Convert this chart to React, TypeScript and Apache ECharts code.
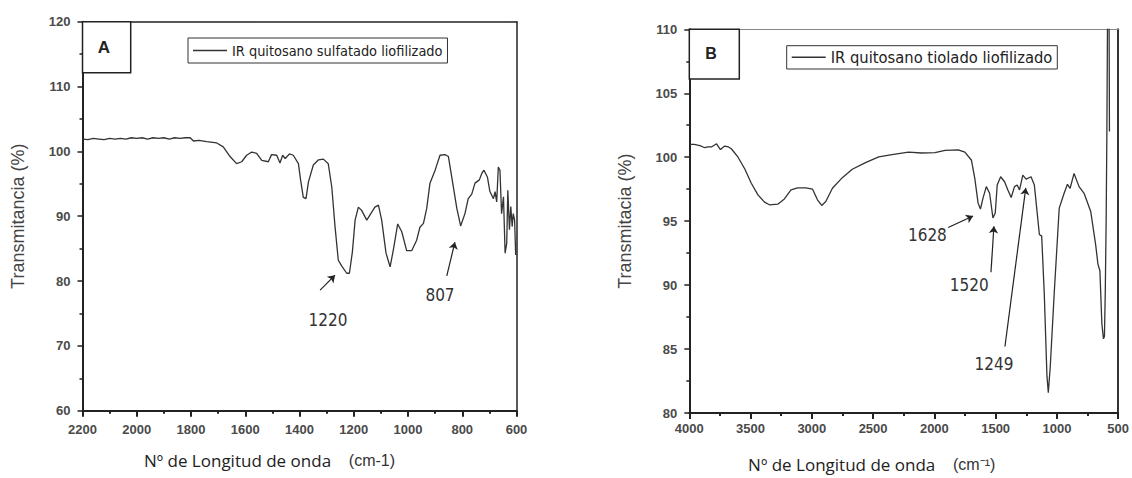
import React, { useEffect, useRef } from "react";
import * as echarts from "echarts";

// ---------- Panel A: IR quitosano sulfatado liofilizado ----------
const wavenumberA = [
  2200, 2180, 2160, 2140, 2120, 2100, 2080, 2060, 2040, 2020, 2000, 1980, 1960, 1940, 1920, 1900, 1880, 1860,
  1840, 1820, 1803, 1791, 1770, 1742, 1720, 1705, 1681, 1656, 1632, 1613, 1595, 1576, 1558, 1539, 1515, 1503,
  1484, 1472, 1462, 1453, 1437, 1423, 1404, 1396, 1386, 1376, 1367, 1349, 1330, 1312, 1294, 1281, 1269, 1257,
  1244, 1226, 1216, 1205, 1195, 1183, 1171, 1152, 1140, 1122, 1109, 1097, 1081, 1066, 1054, 1038, 1023, 1005,
  986, 968, 956, 943, 931, 919, 900, 882, 864, 851, 839, 820, 806, 790, 778, 765, 753, 737, 728, 720, 707, 698,
  685, 679, 673, 667, 661, 655, 648, 642, 636, 632, 626, 621, 616, 612, 607, 603,
];
const transmittanceA = [
  101.9, 101.8, 102.0, 101.9, 101.8, 102.0, 101.9, 102.0, 101.9, 102.1, 102.0, 102.1, 101.9, 102.1, 102.0, 102.1,
  101.9, 102.1, 102.0, 102.1, 102.1, 101.6, 101.7, 101.5, 101.4, 101.3, 100.7, 99.2, 98.1, 98.4, 99.4, 99.9, 99.7,
  98.6, 98.4, 99.5, 99.4, 98.2, 99.4, 98.9, 99.6, 99.4, 98.1, 95.6, 92.9, 92.7, 95.3, 97.9, 98.7, 98.8, 98.1,
  94.5, 88.4, 83.2, 82.3, 81.2, 81.2, 84.5, 89.4, 91.4, 90.9, 89.4, 90.2, 91.4, 91.7, 89.4, 84.3, 82.2, 84.8,
  88.8, 87.6, 84.7, 84.7, 86.3, 88.3, 88.9, 91.2, 95.1, 97.1, 99.4, 99.5, 99.2, 96.1, 91.2, 88.5, 90.4, 92.7,
  93.4, 95.1, 95.6, 96.6, 97.1, 96.0, 93.8, 92.7, 93.8, 92.2, 97.6, 97.1, 90.4, 93.0, 84.3, 85.8, 94.0, 87.9,
  91.5, 88.4, 90.4, 89.4, 84.0,
];

// ---------- Panel B: IR quitosano tiolado liofilizado ----------
const wavenumberB = [
  4000, 3960, 3913, 3873, 3850, 3819, 3778, 3746, 3711, 3680, 3657, 3602, 3548, 3494, 3440, 3386, 3346, 3278,
  3224, 3170, 3116, 3049, 2994, 2954, 2919, 2886, 2832, 2751, 2670, 2562, 2454, 2346, 2211, 2103, 1995, 1913,
  1805, 1751, 1697, 1670, 1643, 1624, 1603, 1576, 1549, 1522, 1503, 1487, 1459, 1427, 1400, 1373, 1346, 1324,
  1305, 1278, 1251, 1211, 1184, 1162, 1143, 1124, 1103, 1081, 1070, 1054, 1022, 981, 941, 914, 892, 860, 819,
  778, 724, 684, 665, 649, 633, 620, 612, 605, 598, 592, 587, 580, 574, 571,
];
const transmittanceB = [
  101.0, 101.0, 100.9, 100.74, 100.8, 100.8, 101.05, 100.6, 100.87, 100.8, 100.66, 100.0, 99.1, 97.96, 97.05,
  96.49, 96.28, 96.33, 96.74, 97.44, 97.6, 97.6, 97.5, 96.67, 96.23, 96.54, 97.57, 98.4, 99.06, 99.58, 100.02,
  100.2, 100.4, 100.33, 100.35, 100.53, 100.58, 100.4, 99.76, 98.34, 96.41, 95.95, 96.8, 97.7, 97.18, 95.25,
  95.64, 97.83, 98.47, 98.08, 97.44, 96.85, 97.7, 97.83, 97.44, 98.6, 98.29, 98.47, 97.83, 95.76, 93.96, 93.83,
  89.32, 82.88, 81.59, 83.65, 89.32, 96.02, 97.18, 97.88, 97.57, 98.73, 97.7, 97.18, 95.76, 93.19, 91.64, 91.12,
  87.0, 85.8, 86.0, 89.5, 95.0, 102.0, 110.5, 113.0, 110.5, 102.0,
];

// Peak annotations (data coordinates): label, label position, arrow start, arrow end
const peakLabelsA = ["1220", "807"];
const peakTextA = [[1295, 74.0], [882, 77.8]];
const peakArrowFromA = [[1324, 78.6], [857, 80.8]];
const peakArrowToA = [[1269, 80.9], [827, 86.0]];

const peakLabelsB = ["1628", "1520", "1249"];
const peakTextB = [[2057, 93.9], [1716, 90.0], [1514, 83.8]];
const peakArrowFromB = [[1887, 94.5], [1538, 91.0], [1424, 85.2]];
const peakArrowToB = [[1684, 95.4], [1514, 94.6], [1254, 97.6]];

const seriesNameA = "IR quitosano sulfatado liofilizado";
const seriesNameB = "IR quitosano tiolado liofilizado";

const zip = (xs: number[], ys: number[]) => xs.map((x, i) => [x, ys[i]]);

const NARROW = "'Liberation Sans Narrow', 'DejaVu Sans Condensed', 'Liberation Sans', sans-serif";
const TICK_FONT = { fontFamily: "'Liberation Sans', Arial, sans-serif", fontWeight: "bold" as const, fontSize: 13, color: "#4a4a4a" };

function buildMarks(labels: string[], text: number[][], from: number[][], to: number[][]) {
  return {
    markLine: {
      silent: true,
      symbol: ["none", "arrow"],
      symbolSize: 7,
      label: { show: false },
      lineStyle: { color: "#222", width: 1.2, type: "solid" },
      data: from.map((f, i) => [{ coord: f }, { coord: to[i] }]),
    },
    markPoint: {
      silent: true,
      symbol: "circle",
      symbolSize: 1,
      itemStyle: { color: "rgba(0,0,0,0)" },
      label: {
        show: true,
        position: "inside",
        formatter: "{b}",
        color: "#333",
        fontSize: 17,
        fontFamily: NARROW,
      },
      data: labels.map((l, i) => ({ name: l, coord: text[i] })),
    },
  };
}

export default function App() {
  const ref = useRef<HTMLDivElement>(null);
  useEffect(() => {
    if (!ref.current) return;
    const chart = echarts.init(ref.current, undefined, { renderer: "svg" });
    const xAxisBase = (grid: number, min: number, max: number, interval: number, gap: number, shift: number, label: string) => ({
      type: "value",
      gridIndex: grid,
      min,
      max,
      interval,
      inverse: true,
      position: "bottom",
      axisLine: { show: true, onZero: false, lineStyle: { color: "#222", width: 2 } },
      axisTick: { show: true, inside: false, length: 6, lineStyle: { color: "#222", width: 2 } },
      minorTick: { show: true, splitNumber: 2, length: 3, lineStyle: { color: "#222", width: 2 } },
      splitLine: { show: false },
      axisLabel: { ...TICK_FONT, margin: grid === 0 ? 12 : 9, formatter: (v: number) => String(v) },
      name: label,
      nameLocation: "middle",
      nameGap: gap,
      nameTextStyle: {
        padding: [0, shift, 0, 0],
        rich: {
          a: { fontFamily: "'Open Sans', sans-serif", fontSize: 17, color: "#222" },
          b: { fontFamily: "'Liberation Sans', sans-serif", fontSize: 16, color: "#333" },
        },
      },
    });
    const yAxisBase = (grid: number, min: number, max: number, interval: number, gap: number, label: string) => ({
      type: "value",
      gridIndex: grid,
      min,
      max,
      interval,
      position: "left",
      axisLine: { show: true, onZero: false, lineStyle: { color: "#222", width: 2 } },
      axisTick: { show: true, inside: false, length: 5, lineStyle: { color: "#222", width: 1.5 } },
      minorTick: { show: true, splitNumber: 2, length: 3, lineStyle: { color: "#222", width: 1.5 } },
      splitLine: { show: false },
      axisLabel: { ...TICK_FONT, margin: 12, formatter: (v: number) => String(v) },
      name: label,
      nameLocation: "middle",
      nameGap: gap,
      nameTextStyle: { fontFamily: "'Liberation Sans', Arial, sans-serif", fontSize: 18, color: "#444" },
    });
    const frameX = (grid: number, color: string, width: number) => ({
      type: "value", gridIndex: grid, position: "top", min: 0, max: 1,
      axisLine: { show: true, onZero: false, lineStyle: { color, width } },
      axisTick: { show: false }, axisLabel: { show: false }, splitLine: { show: false },
    });
    const frameY = (grid: number, color: string, width: number) => ({
      type: "value", gridIndex: grid, position: "right", min: 0, max: 1,
      axisLine: { show: true, onZero: false, lineStyle: { color, width } },
      axisTick: { show: false }, axisLabel: { show: false }, splitLine: { show: false },
    });

    const legendBase = (name: string, left: number, top: number, fontSize: number, lineHeight: number) => ({
      data: [{ name, icon: "rect" }],
      left,
      top,
      orient: "horizontal",
      selectedMode: false,
      itemWidth: 34,
      itemHeight: 1.5,
      itemStyle: { color: "#333" },
      padding: [2, 5, 2, 5],
      borderColor: "#333",
      borderWidth: 1,
      backgroundColor: "#fff",
      textStyle: { fontFamily: NARROW, fontSize, color: "#222", lineHeight },
    });

    chart.setOption({
      animation: false,
      backgroundColor: "#fff",
      grid: [
        { left: 82.5, top: 21.7, width: 434, height: 389, containLabel: false },
        { left: 689.3, top: 29.3, width: 431.7, height: 388, containLabel: false },
      ],
      xAxis: [
        xAxisBase(0, 600, 2200, 200, 41, 60, "{a|Nº de Longitud de onda}{b|    (cm-1)}"),
        xAxisBase(1, 500, 4000, 500, 43, 64, "{a|Nº de Longitud de onda}{b|    (cm⁻¹)}"),
        frameX(0, "#222", 1.5),
        frameX(1, "#888", 1),
      ],
      yAxis: [
        yAxisBase(0, 60, 120, 10, 56, "Transmitancia (%)"),
        yAxisBase(1, 80, 110, 5, 55, "Transmitacia (%)"),
        frameY(0, "#222", 1.5),
        frameY(1, "#333", 2),
      ],
      legend: [
        legendBase(seriesNameA, 188, 38, 14.4, 21),
        legendBase(seriesNameB, 786.7, 45.7, 16.4, 19.3),
      ],
      series: [
        {
          name: seriesNameA,
          type: "line",
          xAxisIndex: 0,
          yAxisIndex: 0,
          data: zip(wavenumberA, transmittanceA),
          symbol: "none",
          clip: true,
          lineStyle: { color: "#333", width: 1.3 },
          itemStyle: { color: "#333" },
          ...buildMarks(peakLabelsA, peakTextA, peakArrowFromA, peakArrowToA),
        },
        {
          name: seriesNameB,
          type: "line",
          xAxisIndex: 1,
          yAxisIndex: 1,
          data: zip(wavenumberB, transmittanceB),
          symbol: "none",
          clip: true,
          lineStyle: { color: "#333", width: 1.3 },
          itemStyle: { color: "#333" },
          ...buildMarks(peakLabelsB, peakTextB, peakArrowFromB, peakArrowToB),
        },
      ],
      graphic: [
        {
          type: "rect", z: 100,
          shape: { x: 82.5, y: 21.7, width: 48.2, height: 51 },
          style: { fill: "#fff", stroke: "#222", lineWidth: 1.5 },
        },
        {
          type: "text", z: 101, x: 104, y: 47,
          style: { text: "A", fill: "#222", font: "bold 17px 'Liberation Sans', Arial, sans-serif", textAlign: "center", textVerticalAlign: "middle" },
        },
        {
          type: "rect", z: 100,
          shape: { x: 689.3, y: 29.3, width: 50, height: 49.7 },
          style: { fill: "#fff", stroke: "#222", lineWidth: 1.5 },
        },
        {
          type: "text", z: 101, x: 711, y: 53,
          style: { text: "B", fill: "#222", font: "bold 16px 'Liberation Sans', Arial, sans-serif", textAlign: "center", textVerticalAlign: "middle" },
        },
      ],
    });
    return () => chart.dispose();
  }, []);
  return <div ref={ref} style={{ position: "absolute", left: 0, top: 0, width: 1132, height: 478, background: "#fff" }} />;
}
